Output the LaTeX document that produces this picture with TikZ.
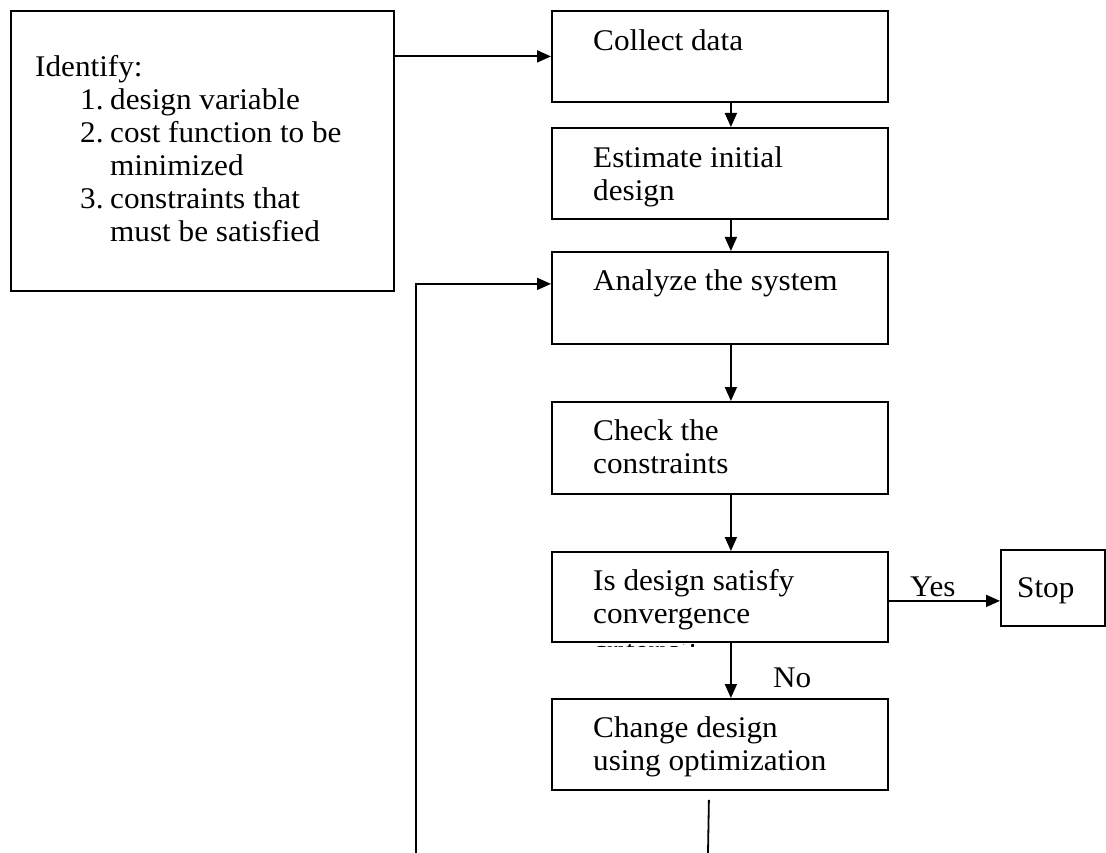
\documentclass[tikz,border=0pt]{standalone}
\usepackage{fontspec}
\setmainfont{Liberation Serif}[FakeStretch=1.04]
\usetikzlibrary{arrows.meta}
\begin{document}
\begin{tikzpicture}[x=1pt,y=-1pt,
  box/.style={draw, line width=1.8pt, inner sep=0pt, anchor=north west},
  txt/.style={anchor=north west, align=left, inner sep=0pt, font=\fontsize{30}{33}\selectfont},
  lbl/.style={anchor=base west, inner sep=0pt, font=\fontsize{30}{33}\selectfont},
  arr/.style={line width=1.8pt, -{Triangle[length=14pt,width=12pt]}},
  ln/.style={line width=1.8pt}]
\useasboundingbox (0,0) rectangle (1106,853);

% boxes
\node[box, minimum width=383pt, minimum height=280pt] (identify) at (10,10) {};
\node[box, minimum width=336pt, minimum height=91pt] (collect) at (551,10) {};
\node[box, minimum width=336pt, minimum height=91pt] (estimate) at (551,127) {};
\node[box, minimum width=336pt, minimum height=92pt] (analyze) at (551,251) {};
\node[box, minimum width=336pt, minimum height=92pt] (check) at (551,401) {};
\node[box, minimum width=336pt, minimum height=90pt] (isdes) at (551,551) {};
\node[box, minimum width=336pt, minimum height=91pt] (change) at (551,698) {};
\node[box, minimum width=104pt, minimum height=76pt] (stop) at (1000,549) {};

% texts (north = baseline - 23.1)
\node[txt] (tidentify) at (35,52.9) {\strut Identify:\\
\hspace*{45pt}\makebox[30pt][l]{1.}design variable\\
\hspace*{45pt}\makebox[30pt][l]{2.}cost function to be\\
\hspace*{75pt}minimized\\
\hspace*{45pt}\makebox[30pt][l]{3.}constraints that\\
\hspace*{75pt}must be satisfied};
\node[txt] (tcollect) at (593,26.9) {\strut Collect data};
\node[txt] (testimate) at (593,143.9) {\strut Estimate initial\\ design};
\node[txt] (tanalyze) at (593,266.9) {\strut Analyze the system};
\node[txt] (tcheck) at (593,416.9) {\strut Check the\\ constraints};
\node[txt] (tisdes) at (593,566.9) {\strut Is design satisfy\\ convergence};
\node[txt] (tchange) at (593,713.9) {\strut Change design\\ using optimization};
\node[txt] (tstop) at (1017,573.9) {\strut Stop};
\begin{scope}
\clip (560,644) rectangle (880,646.5);
\node[lbl] (tcrit) at (593,660) {criteria?};
\end{scope}

% connectors
\draw[arr] (identify.east |- collect.west) -- (collect.west);
\draw[arr] ([xshift=11pt]collect.south) -- ([xshift=11pt]estimate.north);
\draw[arr] ([xshift=11pt]estimate.south) -- ([xshift=11pt]analyze.north);
\draw[arr] ([xshift=11pt]analyze.south) -- ([xshift=11pt]check.north);
\draw[arr] ([xshift=11pt]check.south) -- ([xshift=11pt]isdes.north);
\draw[arr] ([xshift=11pt]isdes.south) -- ([xshift=11pt]change.north);
\draw[arr] ([yshift=-4pt]isdes.east) -- ([yshift=-4pt]isdes.east -| stop.west);
\node[lbl] (yes) at (910,596) {Yes};
\node[lbl] (no) at (773,687) {No};

\coordinate (fb) at (416,853);
\draw[arr] (fb) |- ([yshift=14pt]analyze.west);
\coordinate (fe) at (708,853);
\draw[ln] ([xshift=-11pt,yshift=-9pt]change.south) -- (fe);
\end{tikzpicture}
\end{document}
